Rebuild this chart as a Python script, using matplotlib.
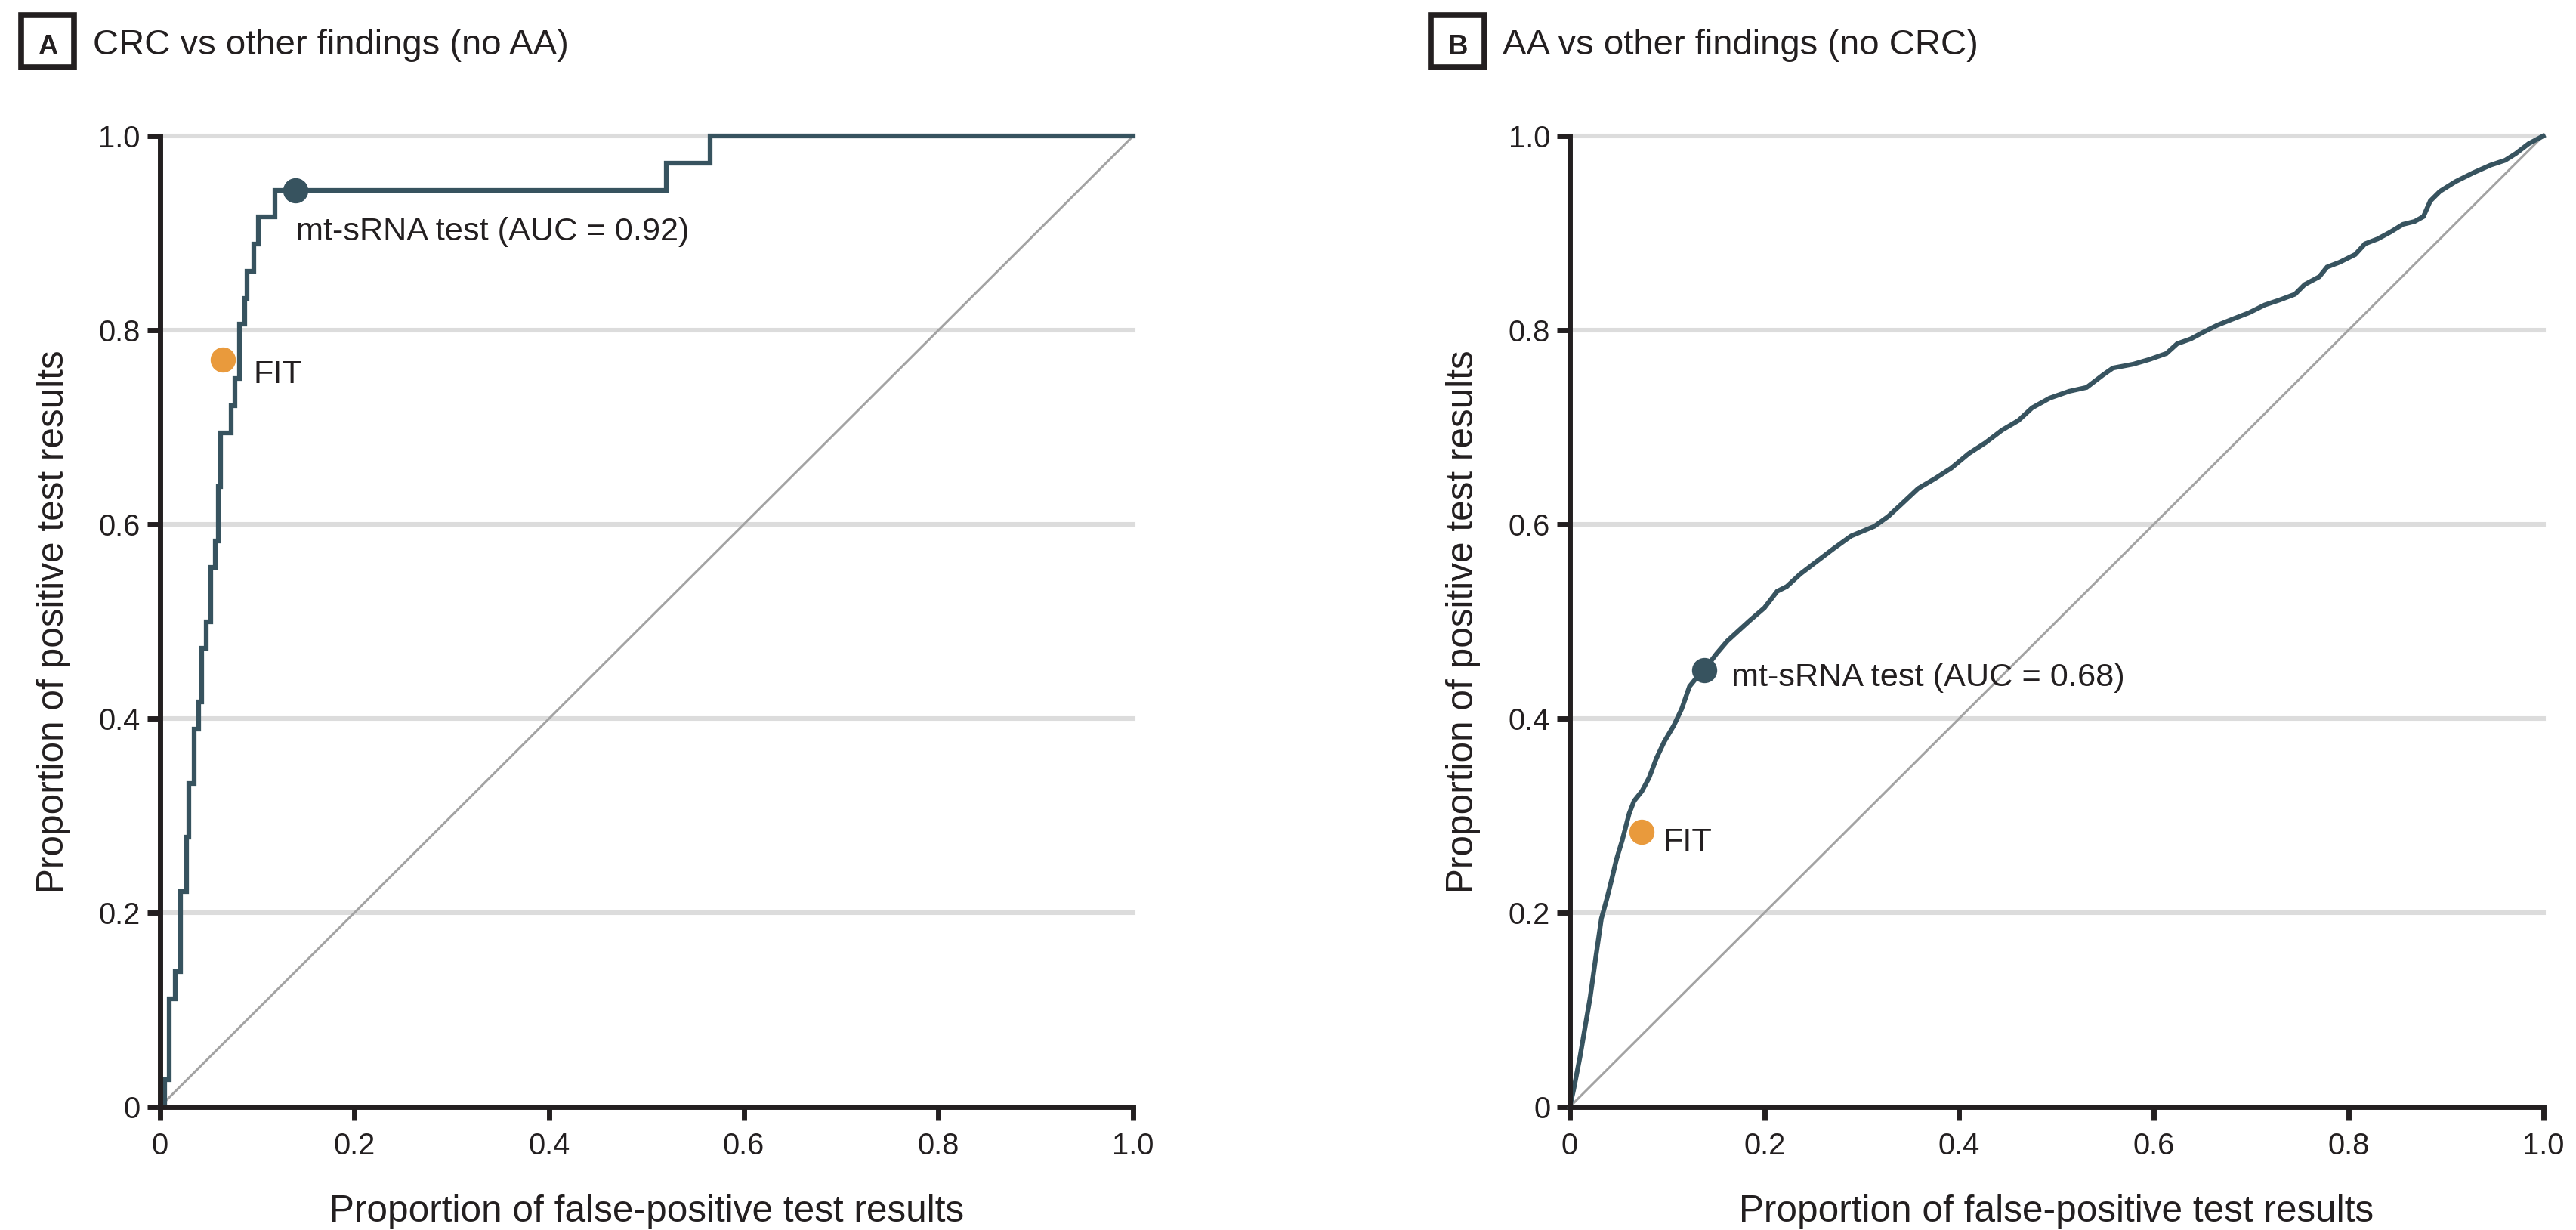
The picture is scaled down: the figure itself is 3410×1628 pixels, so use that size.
import matplotlib
matplotlib.use("Agg")
import matplotlib.pyplot as plt
from matplotlib import font_manager
from matplotlib.patches import Rectangle

# ---------------- data ----------------
tick_values = [0, 0.2, 0.4, 0.6, 0.8, 1.0]
tick_labels = ["0", "0.2", "0.4", "0.6", "0.8", "1.0"]

panel_letters = ["A", "B"]
panel_titles = ["CRC vs other findings (no AA)", "AA vs other findings (no CRC)"]
x_label = "Proportion of false-positive test results"
y_label = "Proportion of positive test results"

# Panel A: CRC ROC (step curve, fpr at each vertical jump, tpr after the jump)
fpr_a = [0, 0.005, 0.010, 0.016, 0.0215, 0.0275, 0.030, 0.035, 0.040, 0.043,
         0.048, 0.052, 0.057, 0.060, 0.0625, 0.073, 0.077, 0.082, 0.087, 0.090,
         0.097, 0.101, 0.118, 0.520, 0.565, 1.0]
tpr_a = [0, 0.028, 0.111, 0.139, 0.222, 0.278, 0.333, 0.389, 0.417, 0.472,
         0.500, 0.556, 0.583, 0.639, 0.694, 0.722, 0.750, 0.806, 0.833, 0.861,
         0.889, 0.917, 0.944, 0.972, 1.0, 1.0]

# Panel B: AA ROC
fpr_b = [0, 0.004, 0.0106, 0.0157, 0.021, 0.027, 0.0325, 0.038, 0.043, 0.048,
         0.054, 0.061, 0.066, 0.074, 0.0815, 0.089, 0.097, 0.107, 0.115, 0.123,
         0.131, 0.138, 0.151, 0.162, 0.174, 0.185, 0.200, 0.213, 0.223, 0.237,
         0.254, 0.271, 0.289, 0.313, 0.327, 0.341, 0.358, 0.375, 0.392, 0.410,
         0.427, 0.444, 0.461, 0.475, 0.493, 0.513, 0.531, 0.548, 0.558, 0.579,
         0.596, 0.613, 0.624, 0.638, 0.651, 0.665, 0.680, 0.698, 0.714, 0.729,
         0.745, 0.755, 0.770, 0.778, 0.791, 0.807, 0.817, 0.830, 0.843, 0.856,
         0.868, 0.877, 0.884, 0.894, 0.910, 0.928, 0.946, 0.961, 0.972, 0.985, 1.0]
tpr_b = [0, 0.018, 0.052, 0.082, 0.113, 0.156, 0.194, 0.214, 0.234, 0.255,
         0.275, 0.302, 0.315, 0.325, 0.339, 0.359, 0.376, 0.393, 0.410, 0.433,
         0.443, 0.450, 0.467, 0.480, 0.491, 0.501, 0.514, 0.531, 0.536, 0.549,
         0.562, 0.575, 0.588, 0.598, 0.608, 0.621, 0.637, 0.647, 0.658, 0.673,
         0.684, 0.697, 0.707, 0.720, 0.730, 0.737, 0.741, 0.754, 0.761, 0.765,
         0.770, 0.776, 0.786, 0.791, 0.798, 0.805, 0.811, 0.818, 0.826, 0.831,
         0.837, 0.847, 0.855, 0.865, 0.870, 0.878, 0.889, 0.894, 0.901, 0.909,
         0.912, 0.917, 0.933, 0.943, 0.953, 0.962, 0.970, 0.975, 0.982, 0.992, 1.0]

# operating points
mt_points = [(0.139, 0.944), (0.138, 0.450)]
fit_points = [(0.065, 0.770), (0.074, 0.283)]
mt_labels = ["mt-sRNA test (AUC = 0.92)", "mt-sRNA test (AUC = 0.68)"]
fit_label = "FIT"

# ---------------- style ----------------
W, H, DPI = 3410, 1628, 100
DARK = "#37535f"
ORANGE = "#e99a3c"
INK = "#231f20"
GRID = "#dcdcdc"
DIAG = "#a3a3a3"

names = {f.name for f in font_manager.fontManager.ttflist}
if "Liberation Sans Narrow" in names:
    FAM = ["Liberation Sans Narrow", "DejaVu Sans"]
    k = 1.0
else:
    FAM = ["Liberation Sans", "DejaVu Sans"]
    k = 0.82
plt.rcParams["font.family"] = FAM
plt.rcParams["text.color"] = INK

fig = plt.figure(figsize=(W / DPI, H / DPI), dpi=DPI)
fig.patch.set_facecolor("white")


def add_axes_px(left, top, right, bottom):
    return fig.add_axes([left / W, 1 - bottom / H, (right - left) / W, (bottom - top) / H])


ax_left = [211.5, 2078.0]
ax_w = 1288.5
ax_top, ax_bot = 180.0, 1465.0

curves = [(fpr_a, tpr_a, "steps-post"), (fpr_b, tpr_b, "default")]
mt_text_pos = [(0.140, 0.901), (0.166, 0.442)]
fit_text_pos = [(0.096, 0.754), (0.096, 0.272)]

for i in range(2):
    L = ax_left[i]
    ax = add_axes_px(L, ax_top, L + ax_w, ax_bot)
    ax.set_xlim(0, 1)
    ax.set_ylim(0, 1)
    ax.set_facecolor("white")

    for v in tick_values[1:]:
        ax.axhline(v, color=GRID, lw=4.4, zorder=0, clip_on=False)

    ax.plot([0, 1], [0, 1], color=DIAG, lw=2.2, zorder=1)

    fx, fy, ds = curves[i]
    ax.plot(fx, fy, drawstyle=ds, color=DARK, lw=4.5, zorder=3, clip_on=False,
            solid_joinstyle="miter")

    mx, my = mt_points[i]
    ax.plot([mx], [my], "o", ms=23, color=DARK, mec=DARK, zorder=4, clip_on=False)
    fxp, fyp = fit_points[i]
    ax.plot([fxp], [fyp], "o", ms=23, color=ORANGE, mec=ORANGE, zorder=4, clip_on=False)

    tx, ty = mt_text_pos[i]
    ax.text(tx, ty, mt_labels[i], ha="left", va="center", fontsize=38 * k, color=INK, zorder=5)
    tx, ty = fit_text_pos[i]
    ax.text(tx, ty, fit_label, ha="left", va="center", fontsize=38 * k, color=INK, zorder=5)

    for s in ["top", "right"]:
        ax.spines[s].set_visible(False)
    for s in ["left", "bottom"]:
        ax.spines[s].set_linewidth(5)
        ax.spines[s].set_color(INK)
        ax.spines[s].set_capstyle("projecting")
        ax.spines[s].set_zorder(6)

    ax.set_xticks(tick_values)
    ax.set_xticklabels(tick_labels)
    ax.set_yticks(tick_values)
    ax.set_yticklabels(tick_labels)
    ax.tick_params(direction="out", length=12.6, width=5, color=INK,
                   labelsize=35 * k, labelcolor=INK)
    ax.tick_params(axis="x", pad=11)
    ax.tick_params(axis="y", pad=6)

    ax.set_xlabel(x_label, fontsize=43.5 * k, va="baseline", color=INK)
    ax.xaxis.set_label_coords(0.5, (ax_bot - 1617) / (ax_bot - ax_top))
    ax.set_ylabel(y_label, fontsize=43.5 * k, va="baseline", color=INK)
    ax.yaxis.set_label_coords((84 - 211.5) / ax_w, 0.5)

    # panel letter box and title
    off = L - ax_left[0]
    fig.add_artist(Rectangle(((27.8 + off) / W, 1 - 89.2 / H), 70.4 / W, 69.4 / H,
                             transform=fig.transFigure, fill=False, lw=5.5,
                             ec=INK, joinstyle="miter"))
    fig.text((63.5 + off) / W, 1 - 72 / H, panel_letters[i], ha="center", va="baseline",
             fontsize=32 * k, fontweight="bold", color=INK)
    fig.text((123 + off) / W, 1 - 72 / H, panel_titles[i], ha="left", va="baseline",
             fontsize=41.5 * k, color=INK)

fig.savefig("out.png", dpi=DPI, facecolor="white")
